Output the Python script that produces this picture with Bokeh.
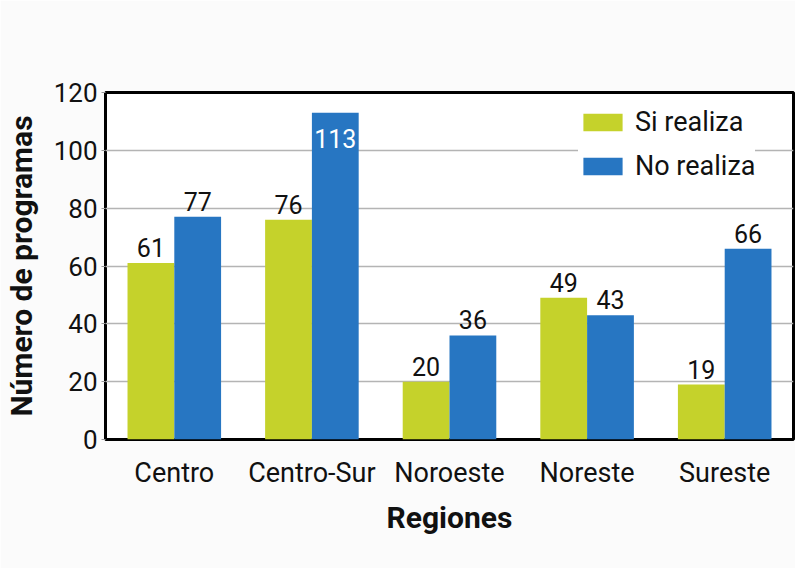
from bokeh.plotting import figure
from bokeh.models import ColumnDataSource, Legend, LegendItem, FixedTicker
from bokeh.transform import dodge
from bokeh.core.properties import value
from bokeh.embed import file_html
from bokeh.resources import INLINE

regiones = ["Centro", "Centro-Sur", "Noroeste", "Noreste", "Sureste"]
si_realiza = [61, 76, 20, 49, 19]
no_realiza = [77, 113, 36, 43, 66]
y_ticks = [0, 20, 40, 60, 80, 100, 120]

GREEN = "#c5d22b"
BLUE = "#2776c2"
FONT = "Roboto"

src = ColumnDataSource(dict(x=regiones, si=si_realiza, no=no_realiza))

p = figure(x_range=regiones, y_range=(0, 120), width=795, height=568,
           output_backend="svg", toolbar_location=None,
           min_border_left=99, min_border_right=2, min_border_top=92, min_border_bottom=129)
p.background_fill_color = "white"
p.border_fill_color = "#fbfbfb"
p.outline_line_color = "black"
p.outline_line_width = 3

r1 = p.vbar(x=dodge("x", -0.17, range=p.x_range), top="si", width=0.34, source=src,
            fill_color=GREEN, line_color=None)
r2 = p.vbar(x=dodge("x", 0.17, range=p.x_range), top="no", width=0.34, source=src,
            fill_color=BLUE, line_color=None)

# value labels
inside = [v >= 110 for v in no_realiza]
lab_si = ColumnDataSource(dict(x=regiones, y=si_realiza, t=[str(v) for v in si_realiza]))
lab_no_out = ColumnDataSource(dict(
    x=[c for c, f in zip(regiones, inside) if not f],
    y=[v for v, f in zip(no_realiza, inside) if not f],
    t=[str(v) for v, f in zip(no_realiza, inside) if not f]))
lab_no_in = ColumnDataSource(dict(
    x=[c for c, f in zip(regiones, inside) if f],
    y=[v for v, f in zip(no_realiza, inside) if f],
    t=[str(v) for v, f in zip(no_realiza, inside) if f]))

common = dict(text="t", text_font=value(FONT), text_font_size="25px", text_align="center")
p.text(x=dodge("x", -0.17, range=p.x_range), y="y", source=lab_si, text_baseline="bottom",
       y_offset=-6, text_color="#111111", **common)
p.text(x=dodge("x", 0.17, range=p.x_range), y="y", source=lab_no_out, text_baseline="bottom",
       y_offset=-6, text_color="#111111", **common)
p.text(x=dodge("x", 0.17, range=p.x_range), y="y", source=lab_no_in, text_baseline="top",
       y_offset=16, text_color="white", **common)

# grid
p.xgrid.grid_line_color = None
p.ygrid.grid_line_color = "#b4b4b4"
p.ygrid.grid_line_width = 1.5
p.yaxis.ticker = FixedTicker(ticks=y_ticks)

# axes
for ax in (p.xaxis[0], p.yaxis[0]):
    ax.axis_line_color = None
    ax.major_label_text_font = FONT
    ax.major_label_text_color = "#111111"
    ax.axis_label_text_font = FONT
    ax.axis_label_text_font_style = "bold"
    ax.axis_label_text_color = "#111111"
    ax.minor_tick_line_color = None

p.yaxis.major_tick_line_color = "#999999"
p.yaxis.major_tick_out = 4
p.yaxis.major_tick_in = 0
p.yaxis.major_label_text_font_size = "26px"
p.yaxis.major_label_standoff = 4
p.yaxis.axis_label = "Número de programas"
p.yaxis.axis_label_text_font_size = "30px"
p.yaxis.axis_label_standoff = 12

p.xaxis.major_tick_line_color = None
p.xaxis.major_label_text_font_size = "27px"
p.xaxis.major_label_standoff = 11
p.xaxis.axis_label = "Regiones"
p.xaxis.axis_label_text_font_size = "30px"
p.xaxis.axis_label_standoff = 8

legend = Legend(items=[LegendItem(label="Si realiza", renderers=[r1]),
                       LegendItem(label="No realiza", renderers=[r2])],
                location=(473, 257))
legend.label_text_font = FONT
legend.label_text_font_size = "27px"
legend.label_text_color = "#111111"
legend.glyph_width = 49
legend.glyph_height = 22
legend.label_standoff = 8
legend.spacing = 12
legend.padding = 8
legend.margin = 0
legend.border_line_color = None
legend.background_fill_color = "white"
legend.background_fill_alpha = 1.0
p.add_layout(legend)

open("out.html", "w").write(file_html(p, INLINE))
